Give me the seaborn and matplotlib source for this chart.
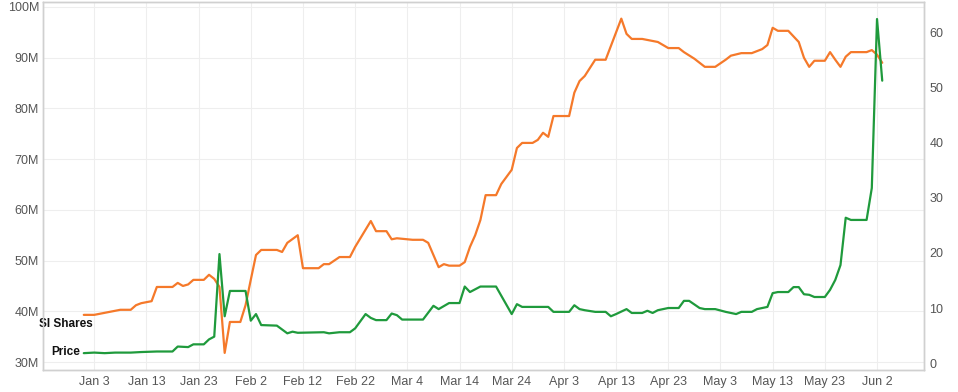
import pandas as pd
import matplotlib
matplotlib.use('Agg')
import matplotlib.pyplot as plt
import matplotlib.dates as mdates
from matplotlib.ticker import FuncFormatter
import seaborn as sns

# SI shares (millions), vertices
si_dates = ['2021-01-01','2021-01-03','2021-01-06','2021-01-08','2021-01-10','2021-01-11','2021-01-12',
            '2021-01-14','2021-01-15','2021-01-18','2021-01-19','2021-01-20','2021-01-21','2021-01-22',
            '2021-01-24','2021-01-25','2021-01-26','2021-01-27','2021-01-28','2021-01-29','2021-01-31',
            '2021-02-01','2021-02-02','2021-02-03','2021-02-04','2021-02-07','2021-02-08','2021-02-09',
            '2021-02-11','2021-02-12','2021-02-15','2021-02-16','2021-02-17','2021-02-19','2021-02-21',
            '2021-02-22','2021-02-25','2021-02-26','2021-02-28','2021-03-01','2021-03-02','2021-03-03',
            '2021-03-05','2021-03-07','2021-03-08','2021-03-10','2021-03-11','2021-03-12','2021-03-14',
            '2021-03-15','2021-03-16','2021-03-17','2021-03-18','2021-03-19','2021-03-21','2021-03-22',
            '2021-03-23','2021-03-24','2021-03-25','2021-03-26','2021-03-28','2021-03-29','2021-03-30',
            '2021-03-31','2021-04-01','2021-04-04','2021-04-05','2021-04-06','2021-04-07','2021-04-09',
            '2021-04-11','2021-04-14','2021-04-15','2021-04-16','2021-04-18','2021-04-21','2021-04-23',
            '2021-04-25','2021-04-26','2021-04-28','2021-04-30','2021-05-02','2021-05-04','2021-05-05',
            '2021-05-07','2021-05-09','2021-05-11','2021-05-12','2021-05-13','2021-05-14','2021-05-16',
            '2021-05-18','2021-05-19','2021-05-20','2021-05-21','2021-05-23','2021-05-24','2021-05-25',
            '2021-05-26','2021-05-27','2021-05-28','2021-05-31','2021-06-01','2021-06-02','2021-06-03']
si_shares = [39.3, 39.3, 39.9, 40.3, 40.3, 41.2, 41.6,
             42.0, 44.8, 44.8, 45.6, 45.0, 45.3, 46.2,
             46.2, 47.2, 46.4, 44.8, 31.8, 37.9, 37.9,
             41.2, 46.2, 51.1, 52.1, 52.1, 51.7, 53.5,
             55.0, 48.5, 48.5, 49.3, 49.3, 50.7, 50.7,
             52.7, 57.8, 55.8, 55.8, 54.2, 54.4, 54.3,
             54.1, 54.1, 53.5, 48.7, 49.3, 49.0, 49.0,
             49.7, 52.7, 55.0, 58.0, 62.9, 62.9, 65.1,
             66.5, 67.9, 72.2, 73.2, 73.2, 73.8, 75.2,
             74.4, 78.5, 78.5, 83.1, 85.4, 86.4, 89.6,
             89.6, 97.7, 94.7, 93.7, 93.7, 93.1, 91.9,
             91.9, 91.1, 89.8, 88.2, 88.2, 89.6, 90.4,
             90.9, 90.9, 91.7, 92.5, 95.9, 95.3, 95.3,
             93.1, 90.0, 88.2, 89.4, 89.4, 91.1, 89.6,
             88.2, 90.2, 91.1, 91.1, 91.5, 90.6, 89.0]

# Price, vertices
px_dates = ['2021-01-01','2021-01-03','2021-01-05','2021-01-07','2021-01-10','2021-01-12','2021-01-15',
            '2021-01-18','2021-01-19','2021-01-21','2021-01-22','2021-01-24','2021-01-25','2021-01-26',
            '2021-01-27','2021-01-28','2021-01-29','2021-02-01','2021-02-02','2021-02-03','2021-02-04',
            '2021-02-07','2021-02-09','2021-02-10','2021-02-11','2021-02-16','2021-02-17','2021-02-19',
            '2021-02-21','2021-02-22','2021-02-24','2021-02-25','2021-02-26','2021-02-28','2021-03-01',
            '2021-03-02','2021-03-03','2021-03-07','2021-03-09','2021-03-10','2021-03-12','2021-03-14',
            '2021-03-15','2021-03-16','2021-03-18','2021-03-21','2021-03-24','2021-03-25','2021-03-26',
            '2021-03-31','2021-04-01','2021-04-04','2021-04-05','2021-04-06','2021-04-07','2021-04-09',
            '2021-04-11','2021-04-12','2021-04-13','2021-04-15','2021-04-16','2021-04-18','2021-04-19',
            '2021-04-20','2021-04-21','2021-04-23','2021-04-25','2021-04-26','2021-04-27','2021-04-29',
            '2021-04-30','2021-05-02','2021-05-04','2021-05-06','2021-05-07','2021-05-09','2021-05-10',
            '2021-05-12','2021-05-13','2021-05-14','2021-05-16','2021-05-17','2021-05-18','2021-05-19',
            '2021-05-20','2021-05-21','2021-05-23','2021-05-24','2021-05-25','2021-05-26','2021-05-27',
            '2021-05-28','2021-05-31','2021-06-01','2021-06-02','2021-06-03']
price = [1.8, 1.9, 1.8, 1.9, 1.9, 2.0, 2.1,
         2.1, 3.0, 2.9, 3.4, 3.4, 4.3, 4.8,
         19.8, 8.5, 13.1, 13.1, 7.7, 8.9, 6.9,
         6.8, 5.4, 5.7, 5.5, 5.6, 5.4, 5.6,
         5.6, 6.3, 8.9, 8.2, 7.8, 7.8, 9.0,
         8.7, 7.9, 7.9, 10.4, 9.8, 10.9, 10.9,
         13.9, 12.9, 13.9, 13.9, 8.9, 10.7, 10.2,
         10.2, 9.3, 9.3, 10.5, 9.8, 9.6, 9.3,
         9.3, 8.5, 8.9, 9.8, 9.1, 9.1, 9.5,
         9.1, 9.6, 10.0, 10.0, 11.3, 11.3, 10.0,
         9.8, 9.8, 9.3, 8.9, 9.3, 9.3, 9.8,
         10.2, 12.7, 12.9, 12.9, 13.8, 13.8, 12.5,
         12.4, 12.0, 12.0, 13.3, 15.1, 17.8, 26.4,
         26.0, 26.0, 31.8, 62.5, 51.3]

df_si = pd.DataFrame({'date': pd.to_datetime(si_dates), 'si': si_shares})
df_px = pd.DataFrame({'date': pd.to_datetime(px_dates), 'price': price})

sns.set_theme(style='whitegrid')
plt.rcParams['font.family'] = ['Liberation Sans', 'DejaVu Sans']

fig = plt.figure(figsize=(9.58, 3.92), dpi=100)
ax1 = fig.add_axes([0.045, 0.056, 0.9195, 0.939])

sns.lineplot(data=df_si, x='date', y='si', color='#f5792a', linewidth=1.6, ax=ax1)

ax2 = ax1.twinx()
sns.lineplot(data=df_px, x='date', y='price', color='#1f9a3c', linewidth=1.6, ax=ax2)

ax1.set_xlim(pd.Timestamp('2020-12-24 05:00'), pd.Timestamp('2021-06-11'))
ax1.set_ylim(28.42, 100.99)
ax2.set_ylim(-1.27, 65.6)

ticks = pd.date_range('2021-01-03', '2021-06-02', freq='10D')
ax1.set_xticks(ticks)
ax1.xaxis.set_major_formatter(mdates.DateFormatter('%b %-d'))
ax1.set_yticks(range(30, 101, 10))
ax1.yaxis.set_major_formatter(FuncFormatter(lambda v, p: f'{int(v)}M'))
ax2.set_yticks(range(0, 61, 10))

for a in (ax1, ax2):
    a.set_xlabel('')
    a.set_ylabel('')
    a.tick_params(labelsize=9, colors='#555555', length=0, pad=4)
    for s in a.spines.values():
        s.set_color('#d0d0d0')
        s.set_linewidth(1)
ax1.grid(True, color='#eeeeee', linewidth=0.8)
ax2.grid(False)
ax1.tick_params(axis='y', pad=3)

ax1.text(0.0568, 0.125, 'SI Shares', transform=ax1.transAxes, ha='right', va='center',
         fontsize=8.5, fontweight='bold', color='#111111')
ax1.text(0.042, 0.049, 'Price', transform=ax1.transAxes, ha='right', va='center',
         fontsize=8.5, fontweight='bold', color='#111111')

fig.savefig('out.png', dpi=100)
